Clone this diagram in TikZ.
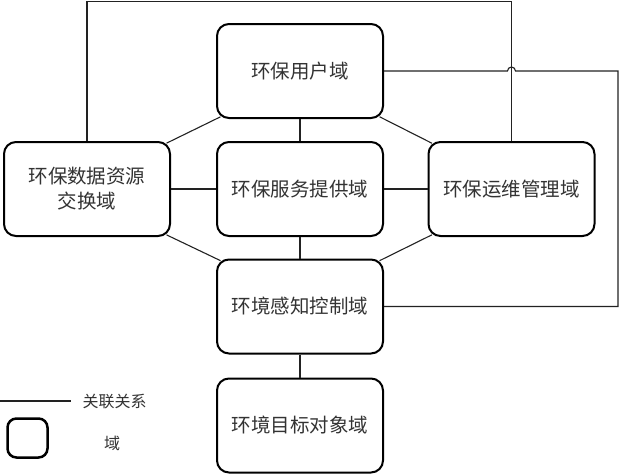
\documentclass[tikz,border=0pt]{standalone}
\usepackage{fontspec}
\newfontfamily\cjk{Noto Sans CJK SC}
\usetikzlibrary{calc}
\definecolor{txt}{HTML}{333333}
\definecolor{ln}{HTML}{222222}
\tikzset{
  dom/.style={draw=black, line width=2pt, rounded corners=12pt, minimum width=166pt, minimum height=94pt, inner sep=0pt, text=txt, font=\cjk\fontsize{19.5}{25}\selectfont, align=center},
  conn/.style={draw=ln, line width=1.1pt},
  diag/.style={conn, shorten <=-5pt, shorten >=-5pt},
  lgtext/.style={text=txt, font=\cjk\fontsize{16}{20}\selectfont, inner sep=0pt}
}
\begin{document}
\begin{tikzpicture}[x=1pt,y=-1pt]
\useasboundingbox (0,0) rectangle (619,474);
\node[dom] (U) at (300,71) {环保用户域};
\node[dom] (L) at (87,189) {环保数据资源\\交换域};
\node[dom] (M) at (300,189) {环保服务提供域};
\node[dom] (R) at (511.5,189) {环保运维管理域};
\node[dom] (C) at (300,306.5) {环境感知控制域};
\node[dom] (T) at (300,425.5) {环境目标对象域};
\coordinate (top) at (0,1.5);
\coordinate (rc) at (618,0);
% internal links
\draw[conn] (U) -- (M);
\draw[conn] (M) -- (C);
\draw[conn] (C) -- (T);
\draw[conn] (L) -- (M);
\draw[conn] (M) -- (R);
\begin{scope}[on background layer/.style={}]
\draw[diag] (U.south west) -- (L.north east);
\draw[diag] (U.south east) -- (R.north west);
\draw[diag] (L.south east) -- (C.north west);
\draw[diag] (R.south west) -- (C.north east);
\end{scope}
% top loop
\draw[conn] (L.north) -- (L.north |- top) -- (R.north |- top) -- (R.north);
% right loop with hop
\draw[conn] (U.east) -- ($(R.north |- U.east)+(-4,0)$) arc[start angle=180, end angle=0, radius=4pt] -- (rc |- U.east) -- (rc |- C.east) -- (C.east);
% legend
\coordinate (lg1) at (0,401);
\coordinate (lg2) at (71,401);
\draw[conn] (lg1) -- (lg2);
\node[lgtext] (lgt1) at (114.5,402) {关联关系};
\node[draw=black, line width=2.5pt, rounded corners=9pt, minimum width=40pt, minimum height=39pt, inner sep=0pt] (lgbox) at (27.5,438) {};
\node[lgtext] (lgt2) at (112,443) {域};
\end{tikzpicture}
\end{document}
